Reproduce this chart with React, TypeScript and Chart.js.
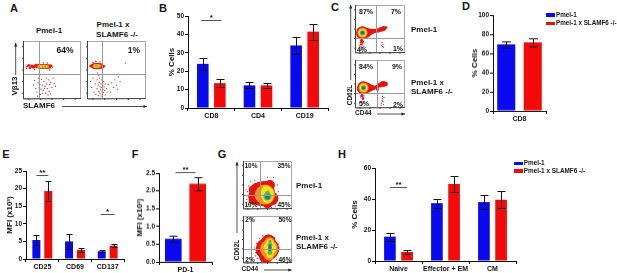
import React, { useEffect, useRef } from "react";
import { Chart, registerables } from "chart.js";
Chart.register(...registerables);

const FONT = '"Liberation Sans", Arial, sans-serif';
const BLUE = "#0a0af0";
const RED = "#f50a0a";
const SER1 = "Pmel-1";
const SER2 = "Pmel-1 x SLAMF6 -/-";

// ---- bar data ----
const bCats = ["CD8", "CD4", "CD19"];
const bPmel = [24, 12.3, 34];
const bKo = [13.5, 12.3, 41.5];
const bPmelErr = [3.4, 1.6, 4.4];
const bKoErr = [2, 1.5, 4.4];

const dCats = ["CD8"];
const dPmel = [69.5];
const dKo = [71.5];
const dPmelErr = [3.5];
const dKoErr = [4.6];

const eCats = ["CD25", "CD69", "CD137"];
const ePmel = [5.4, 5.0, 2.2];
const eKo = [19.3, 2.6, 3.8];
const ePmelErr = [1.3, 2.2, 0.3];
const eKoErr = [2.9, 0.5, 0.5];

const fCats = ["PD-1"];
const fPmel = [0.65];
const fKo = [2.2];
const fPmelErr = [0.09];
const fKoErr = [0.18];

const hCats = ["Naive", "Effector + EM", "CM"];
const hPmel = [15.7, 37.3, 38];
const hKo = [5.8, 49.7, 39.5];
const hPmelErr = [2.6, 3, 4.5];
const hKoErr = [1.4, 5.3, 5.5];

// ---- flow cytometry plots: [x%, y%] events and density layers [x%, y%, radius] ----
type Pt = number[];
const a1Sparse: Pt[] = [[20,32],[24,12],[26,28],[28,20],[30,8],[32,34],[33,24],[35,15],[36,30],[38,22],[39,10],[40,36],[41,26],[42,18],[44,33],[45,13],[46,25],[48,29],[50,20],[52,36],[54,27],[18,24],[22,18],[27,36],[34,10],[31,17],[37,18],[29,25],[56,22],[43,7],[25,5],[47,9]];
const a1Red: Pt[] = [[7,56,1],[10,58,1.3],[12,54,1.3],[15,57,1.5],[18,55,1.7],[21,57,1.8],[25,57,2.3],[29,56,2.5],[33,56,2.5],[37,56,2.5],[41,56,2.5],[45,56,2.2],[48,57,1.4],[51,55,.8],[6,53,.7],[20,51,.7],[35,62,.7],[42,62,.7],[46,50,.7]];
const a1Orange: Pt[] = [[27,56,1.7],[32,56,2],[37,56,2],[42,56,1.8]];
const a1Yellow: Pt[] = [[31,56,1.3],[36,56,1.4],[40,56,1.2]];
const a1Green: Pt[] = [[34,56,.9],[38,56,1]];

const a2Sparse: Pt[] = [[6,30],[8,20],[10,36],[12,12],[14,26],[15,8],[17,33],[17,18],[19,24],[19,6],[20,13],[21,29],[21,36],[22,21],[22,10],[23,16],[24,26],[24,5],[25,33],[25,20],[26,13],[26,8],[27,24],[27,17],[28,30],[28,11],[29,21],[30,15],[31,7],[31,26],[33,18],[34,12],[36,25],[40,12],[42,28],[45,20],[47,33],[50,24],[52,17],[53,38],[56,30],[65,62],[20,40],[18,45]];
const a2Red: Pt[] = [[6,57,1.3],[9,57,2],[12,57,2.8],[15,57,3.3],[19,57,3.3],[23,57,2.8],[27,56,1.7],[30,57,.8],[15,65,.7],[10,63,.7],[22,64,.6]];
const a2Orange: Pt[] = [[12,57,1.6],[15,57,2.2],[19,57,2.2],[22,57,1.4]];
const a2Yellow: Pt[] = [[14,57,1.5],[18,57,1.5]];
const a2Green: Pt[] = [[15,57,.9],[18,57,.9]];

const c1Sparse: Pt[] = [[10,8],[12,13],[14,6],[15,17],[16,11],[11,22],[17,24],[13,28],[18,14],[9,15],[53,16],[56,18],[55,14],[57,12],[54,22]];
const c1Red: Pt[] = [[15,42,6.5],[9,38,3],[22,42,5],[28,44,3.5],[34,45,2.6],[40,46,2.2],[46,47,2.2],[52,49,2.4],[57,51,2.5],[62,53,1.4],[13,26,1.6],[15,22,1.3],[12,18,1.2]];
const c1Orange: Pt[] = [[15,42,5]];
const c1Yellow: Pt[] = [[15,42,3.9]];
const c1Green: Pt[] = [[15,42,2.7]];
const c1Blue: Pt[] = [[15,42,1.8]];

const c2Sparse: Pt[] = [[9,10],[12,14],[14,8],[15,18],[17,12],[11,23],[18,25],[13,5],[53,10],[56,13],[55,19],[57,7],[54,16],[58,22],[52,6],[55,24]];
const c2Red: Pt[] = [[17,42,6.5],[10,40,3.2],[24,42,5],[30,42,3.5],[36,42,2.5],[44,44,2.2],[50,48,2.5],[56,50,3],[61,50,2.4],[45,38,1.4],[14,26,1.6],[16,20,1.3]];
const c2Orange: Pt[] = [[17,42,5]];
const c2Yellow: Pt[] = [[17,42,3.8]];
const c2Green: Pt[] = [[17,42,2.6]];
const c2Blue: Pt[] = [[17,42,1.7]];

const g1Sparse: Pt[] = [[8,20],[9,36],[12,48],[7,28],[16,58],[24,60],[36,64],[50,66],[62,66],[70,50],[72,36],[70,20],[66,6],[12,10],[20,4],[48,2],[58,3],[6,40]];
const g1Red: Pt[] = [[40,32,12.5],[27,26,8],[30,38,8],[46,44,7],[55,50,5],[58,22,7],[50,12,5],[20,18,4],[20,40,4]];
const g1Orange: Pt[] = [[45,30,10],[36,28,6]];
const g1Yellow: Pt[] = [[49,32,7],[50,22,5],[47,42,3.5]];
const g1Green: Pt[] = [[50,26,4],[50,33,2.5]];
const g1Blue: Pt[] = [[50,25,2.4]];

const g2Sparse: Pt[] = [[26,22],[24,32],[28,42],[33,52],[40,58],[52,60],[64,54],[72,40],[72,24],[68,8],[30,10],[38,3],[56,2],[25,15],[74,32]];
const g2Red: Pt[] = [[50,30,11.5],[47,15,7],[52,46,7],[37,26,5.5],[38,38,4.5]];
const g2Orange: Pt[] = [[53,30,9],[53,16,5],[54,44,5]];
const g2Yellow: Pt[] = [[55,32,6.5],[55,18,3.5],[55,44,3.5]];
const g2Green: Pt[] = [[55,22,2.4],[55,30,2.4],[55,38,2.4],[55,46,1.6]];
const g2Blue: Pt[] = [[55,28,1.4],[55,33,1.4],[55,38,1]];

const RED_EVT = "#d6262a";
const HOT = "#e8130f";
const ORANGE = "#f7931e";
const YELLOW = "#f2e21a";
const GREEN = "#5fb550";
const CORE = "#1d6ea8";

// plugin drawing error bars and significance brackets from the values
const barExtras = {
  id: "barExtras",
  afterDatasetsDraw(chart: any, _a: any, o: any) {
    const { ctx, scales } = chart;
    ctx.save();
    ctx.strokeStyle = "#151515";
    ctx.lineWidth = 1;
    chart.data.datasets.forEach((ds: any, i: number) => {
      const meta = chart.getDatasetMeta(i);
      ds.data.forEach((v: number, j: number) => {
        const x = Math.round(meta.data[j].x) + 0.5;
        const t = Math.round(scales.y.getPixelForValue(v + ds.err[j])) + 0.5;
        const b = Math.round(scales.y.getPixelForValue(Math.max(0, v - ds.err[j]))) + 0.5;
        ctx.beginPath();
        ctx.moveTo(x, t); ctx.lineTo(x, b);
        ctx.moveTo(x - o.cap, t); ctx.lineTo(x + o.cap, t);
        ctx.moveTo(x - o.cap, b); ctx.lineTo(x + o.cap, b);
        ctx.stroke();
      });
    });
    (o.sig || []).forEach((s: any) => {
      const cx = scales.x.getPixelForValue(s.cat);
      const y = Math.round(scales.y.getPixelForValue(s.y)) + 0.5;
      ctx.strokeStyle = "#555";
      ctx.beginPath();
      ctx.moveTo(cx - s.half, y); ctx.lineTo(cx + s.half, y);
      ctx.stroke();
      ctx.fillStyle = "#111";
      ctx.font = `bold 8px ${FONT}`;
      ctx.textAlign = "center";
      ctx.textBaseline = "middle";
      ctx.fillText(s.mark, cx, y - 3);
    });
    ctx.restore();
  },
};

function BarPanel(p: any) {
  const ref = useRef<HTMLCanvasElement>(null);
  const leftSpace = p.plotL - p.canvasL;
  const top = 14, bottom = 15, right = 18;
  useEffect(() => {
    const chart = new Chart(ref.current as any, {
      type: "bar",
      data: {
        labels: p.cats,
        datasets: [
          { label: SER1, data: p.s1, err: p.e1, backgroundColor: BLUE, categoryPercentage: p.cp, barPercentage: p.bp },
          { label: SER2, data: p.s2, err: p.e2, backgroundColor: RED, categoryPercentage: p.cp, barPercentage: p.bp },
        ] as any,
      },
      plugins: [barExtras],
      options: {
        animation: false,
        responsive: false,
        layout: { padding: { top, right, left: 0, bottom: 0 } },
        plugins: { legend: { display: false }, tooltip: { enabled: false }, barExtras: { cap: p.cap, sig: p.sig } } as any,
        scales: {
          x: {
            afterFit: (s: any) => { s.height = bottom; },
            grid: { display: true, drawOnChartArea: false, drawTicks: true, tickLength: 3, color: "#000" },
            border: { color: "#111", width: 1 },
            ticks: { color: "#111", padding: 1, maxRotation: 0, minRotation: 0, autoSkip: false, font: { family: FONT, size: 7, weight: "bold" } },
          },
          y: {
            min: 0, max: p.max,
            afterFit: (s: any) => { s.width = leftSpace; },
            grid: { display: true, drawOnChartArea: false, drawTicks: true, tickLength: 3, color: "#000" },
            border: { color: "#111", width: 1 },
            title: { display: true, text: p.title, color: "#111", padding: { top: 0, bottom: 0 }, font: { family: FONT, size: 8, weight: "bold" } },
            ticks: {
              stepSize: p.step, padding: 1, color: "#111",
              callback: (v: any) => (p.dec ? Number(v).toFixed(1) : String(v)),
              font: { family: FONT, size: 6.5, weight: "bold" },
            },
          },
        },
      },
    } as any);
    return () => chart.destroy();
  }, []);
  const w = p.plotR - p.canvasL + right;
  const h = p.plotB - p.plotT + top + bottom;
  return <canvas ref={ref} width={w} height={h} style={{ position: "absolute", left: p.canvasL, top: p.plotT - top, width: w, height: h, display: "block" }} />;
}

const flowFrame = {
  id: "flowFrame",
  beforeDatasetsDraw(chart: any) {
    const { ctx, chartArea: a } = chart;
    ctx.save();
    ctx.strokeStyle = "#a8a8a8";
    ctx.lineWidth = 1;
    ctx.strokeRect(a.left + 0.5, a.top + 0.5, a.width - 1, a.height - 1);
    ctx.restore();
  },
  afterDatasetsDraw(chart: any, _a: any, o: any) {
    const { ctx, chartArea: a, scales } = chart;
    ctx.save();
    ctx.strokeStyle = "#9a9a9a";
    ctx.lineWidth = 1;
    const gx = Math.round(scales.x.getPixelForValue(o.gateX)) + 0.5;
    const gy = Math.round(scales.y.getPixelForValue(o.gateY)) + 0.5;
    ctx.beginPath();
    ctx.moveTo(gx, a.top); ctx.lineTo(gx, a.bottom);
    ctx.moveTo(a.left, gy); ctx.lineTo(a.right, gy);
    ctx.stroke();
    ctx.strokeStyle = "#444";
    ctx.beginPath();
    ctx.moveTo(a.left + 0.5, a.top); ctx.lineTo(a.left + 0.5, a.bottom);
    ctx.lineTo(a.right, a.bottom - 0.5);
    for (const f of [0.1, 0.3, 0.5, 0.7, 0.9]) {
      const ty = a.top + a.height * f;
      ctx.moveTo(a.left - 1, ty); ctx.lineTo(a.left + 1, ty);
      const tx = a.left + a.width * f;
      ctx.moveTo(tx, a.bottom - 1); ctx.lineTo(tx, a.bottom + 1);
    }
    ctx.stroke();
    ctx.restore();
  },
};

function FlowPanel(p: any) {
  const ref = useRef<HTMLCanvasElement>(null);
  const pad = 2;
  useEffect(() => {
    const layer = (pts: Pt[], color: string, r?: number) => ({
      data: pts.map((q) => ({ x: q[0], y: q[1], r: r ?? q[2] })),
      backgroundColor: color,
      borderWidth: 0,
      hoverRadius: 0,
    });
    // Chart.js paints the first dataset last, so the hottest core comes first
    const chart = new Chart(ref.current as any, {
      type: "bubble",
      data: {
        datasets: [
          ...(p.blue ? [layer(p.blue, CORE)] : []),
          layer(p.green, GREEN),
          layer(p.yellow, YELLOW),
          layer(p.orange, ORANGE),
          layer(p.red, HOT),
          layer(p.sparse, RED_EVT, 0.65),
        ] as any,
      },
      plugins: [flowFrame],
      options: {
        animation: false,
        responsive: false,
        // bubble charts otherwise shrink the plot area by the largest radius
        layout: { padding: pad, autoPadding: false },
        plugins: { legend: { display: false }, tooltip: { enabled: false }, flowFrame: { gateX: p.gateX, gateY: p.gateY } } as any,
        scales: {
          x: { min: 0, max: 100, display: false },
          y: { min: 0, max: 100, display: false },
        },
      },
    } as any);
    return () => chart.destroy();
  }, []);
  const w = p.r - p.l + pad * 2;
  const h = p.b - p.t + pad * 2;
  return <canvas ref={ref} width={w} height={h} style={{ position: "absolute", left: p.l - pad, top: p.t - pad, width: w, height: h, display: "block" }} />;
}

function T({ x, y, s = 8, w = "bold", left, rot, children }: any) {
  const tr = rot ? `translate(-50%,-50%) rotate(${rot}deg)` : left ? "translate(0,-50%)" : "translate(-50%,-50%)";
  return (
    <span style={{ position: "absolute", left: x, top: y, transform: tr, fontFamily: FONT, fontSize: s, fontWeight: w as any, color: "#161616", whiteSpace: "nowrap", lineHeight: 1 }}>
      {children}
    </span>
  );
}

function Legend({ x, y1, y2, tx, s }: any) {
  return (
    <>
      <span style={{ position: "absolute", left: x, top: y1 - 1.5, width: 9, height: 3.5, background: BLUE }} />
      <span style={{ position: "absolute", left: x, top: y2 - 1.5, width: 9, height: 3.5, background: RED }} />
      <T x={tx} y={y1} s={s} left>{SER1}</T>
      <T x={tx} y={y2} s={s} left>{SER2}</T>
    </>
  );
}

function Arrows() {
  const lines = [
    [62, 106.5, 147, 106.5], [15.7, 75, 15.7, 43],
    [377, 114, 405, 114], [350.7, 80, 350.7, 5],
    [264, 270, 291.7, 270], [237, 233, 237, 162],
  ];
  return (
    <svg width={617} height={273} style={{ position: "absolute", left: 0, top: 0 }}>
      {lines.map(([a, b, c, d], i) => {
        const horiz = b === d;
        const head = horiz ? `${c},${d} ${c - 3.5},${d - 1.6} ${c - 3.5},${d + 1.6}` : `${c},${d} ${c - 1.6},${d + 3.5} ${c + 1.6},${d + 3.5}`;
        return (
          <g key={i}>
            <line x1={a} y1={b} x2={c} y2={d} stroke="#222" strokeWidth={0.8} />
            <polygon points={head} fill="#222" />
          </g>
        );
      })}
    </svg>
  );
}

export default function App() {
  useEffect(() => { document.body.style.margin = "0"; }, []);
  return (
    <div style={{ position: "absolute", left: 0, top: 0, width: 617, height: 273, overflow: "hidden", background: "#fff", filter: "blur(0.35px)" }}>
      <Arrows />
      {/* Panel letters */}
      <T x={14} y={8} s={11}>A</T>
      <T x={163} y={8} s={11}>B</T>
      <T x={335} y={7} s={11}>C</T>
      <T x={466} y={6} s={11}>D</T>
      <T x={6} y={154} s={11}>E</T>
      <T x={135} y={154} s={11}>F</T>
      <T x={222} y={154} s={11}>G</T>
      <T x={342} y={154} s={11}>H</T>

      {/* A */}
      <FlowPanel l={23} t={41} r={81} b={99} gateX={28} gateY={43} sparse={a1Sparse} red={a1Red} orange={a1Orange} yellow={a1Yellow} green={a1Green} />
      <FlowPanel l={87} t={41} r={146} b={99} gateX={26} gateY={43} sparse={a2Sparse} red={a2Red} orange={a2Orange} yellow={a2Yellow} green={a2Green} />
      <T x={49} y={31}>Pmel-1</T>
      <T x={113} y={25}>Pmel-1 x</T>
      <T x={117} y={35}>SLAMF6 -/-</T>
      <T x={65} y={50} s={8.5}>64%</T>
      <T x={134} y={50} s={8.5}>1%</T>
      <T x={39} y={106}>SLAMF6</T>
      <T x={15} y={86} rot={-90}>Vβ13</T>

      {/* B */}
      <BarPanel canvasL={167} plotL={188} plotR={328} plotT={15.5} plotB={108} cats={bCats} s1={bPmel} s2={bKo} e1={bPmelErr} e2={bKoErr} max={50} step={10} title="% Cells" cp={0.73} bp={0.68} cap={4} sig={[{ cat: 0, y: 48, half: 10, mark: "*" }]} />

      {/* C */}
      <FlowPanel l={355} t={5} r={405} b={53} gateX={42} gateY={31} sparse={c1Sparse} red={c1Red} orange={c1Orange} yellow={c1Yellow} green={c1Green} blue={c1Blue} />
      <FlowPanel l={355} t={60} r={405} b={108} gateX={44} gateY={31} sparse={c2Sparse} red={c2Red} orange={c2Orange} yellow={c2Yellow} green={c2Green} blue={c2Blue} />
      <T x={366} y={11} s={7}>87%</T>
      <T x={396} y={11} s={7}>7%</T>
      <T x={362} y={49} s={7}>4%</T>
      <T x={398} y={48} s={7}>1%</T>
      <T x={366} y={65.5} s={7}>84%</T>
      <T x={397} y={65.5} s={7}>9%</T>
      <T x={364} y={103} s={7}>5%</T>
      <T x={398} y={103.5} s={7}>2%</T>
      <T x={411} y={30} left>Pmel-1</T>
      <T x={411} y={82.5} left>Pmel-1 x</T>
      <T x={411} y={92} left>SLAMF6 -/-</T>
      <T x={349.5} y={95} s={6.5} rot={-90}>CD62L</T>
      <T x={355} y={113} s={6.5} left>CD44</T>

      {/* D */}
      <BarPanel canvasL={470} plotL={493} plotR={546} plotT={15} plotB={110.7} cats={dCats} s1={dPmel} s2={dKo} e1={dPmelErr} e2={dKoErr} max={100} step={20} title="% Cells" cp={1} bp={0.68} cap={4.5} />
      <Legend x={546} y1={14.5} y2={23} tx={556} s={6.3} />

      {/* E */}
      <BarPanel canvasL={5} plotL={26} plotR={124} plotT={170.7} plotB={259} cats={eCats} s1={ePmel} s2={eKo} e1={ePmelErr} e2={eKoErr} max={25} step={5} title="MFI (x10³)" cp={0.73} bp={0.67} cap={3} sig={[{ cat: 0, y: 24, half: 6, mark: "**" }, { cat: 2, y: 12.7, half: 7, mark: "*" }]} />

      {/* F */}
      <BarPanel canvasL={135} plotL={159} plotR={212} plotT={173.3} plotB={262} cats={fCats} s1={fPmel} s2={fKo} e1={fPmelErr} e2={fKoErr} max={2.5} step={0.5} dec title="MFI (x10³)" cp={0.92} bp={0.68} cap={4} sig={[{ cat: 0, y: 2.54, half: 10, mark: "**" }]} />

      {/* G */}
      <FlowPanel l={243} t={161} r={292} b={209} gateX={34} gateY={30} sparse={g1Sparse} red={g1Red} orange={g1Orange} yellow={g1Yellow} green={g1Green} blue={g1Blue} />
      <FlowPanel l={243} t={216} r={292} b={263} gateX={16} gateY={30} sparse={g2Sparse} red={g2Red} orange={g2Orange} yellow={g2Yellow} green={g2Green} blue={g2Blue} />
      <T x={251} y={165.5} s={6.5}>10%</T>
      <T x={284} y={165.5} s={6.5}>35%</T>
      <T x={251} y={205} s={6.5}>10%</T>
      <T x={284} y={205} s={6.5}>45%</T>
      <T x={250} y={220} s={6.5}>2%</T>
      <T x={285} y={220} s={6.5}>50%</T>
      <T x={250} y={259.5} s={6.5}>2%</T>
      <T x={285} y={259.5} s={6.5}>46%</T>
      <T x={296} y={185.5} left>Pmel-1</T>
      <T x={296} y={237.5} left>Pmel-1 x</T>
      <T x={296} y={247} left>SLAMF6 -/-</T>
      <T x={236.5} y={250} s={6.5} rot={-90}>CD62L</T>
      <T x={241.5} y={269} s={6.5} left>CD44</T>

      {/* H */}
      <BarPanel canvasL={350} plotL={375} plotR={516} plotT={167.7} plotB={261} cats={hCats} s1={hPmel} s2={hKo} e1={hPmelErr} e2={hKoErr} max={60} step={20} title="% Cells" cp={0.73} bp={0.68} cap={4} sig={[{ cat: 0, y: 47.6, half: 8.5, mark: "**" }]} />
      <Legend x={514} y1={163} y2={170.7} tx={523.7} s={6.4} />
    </div>
  );
}
